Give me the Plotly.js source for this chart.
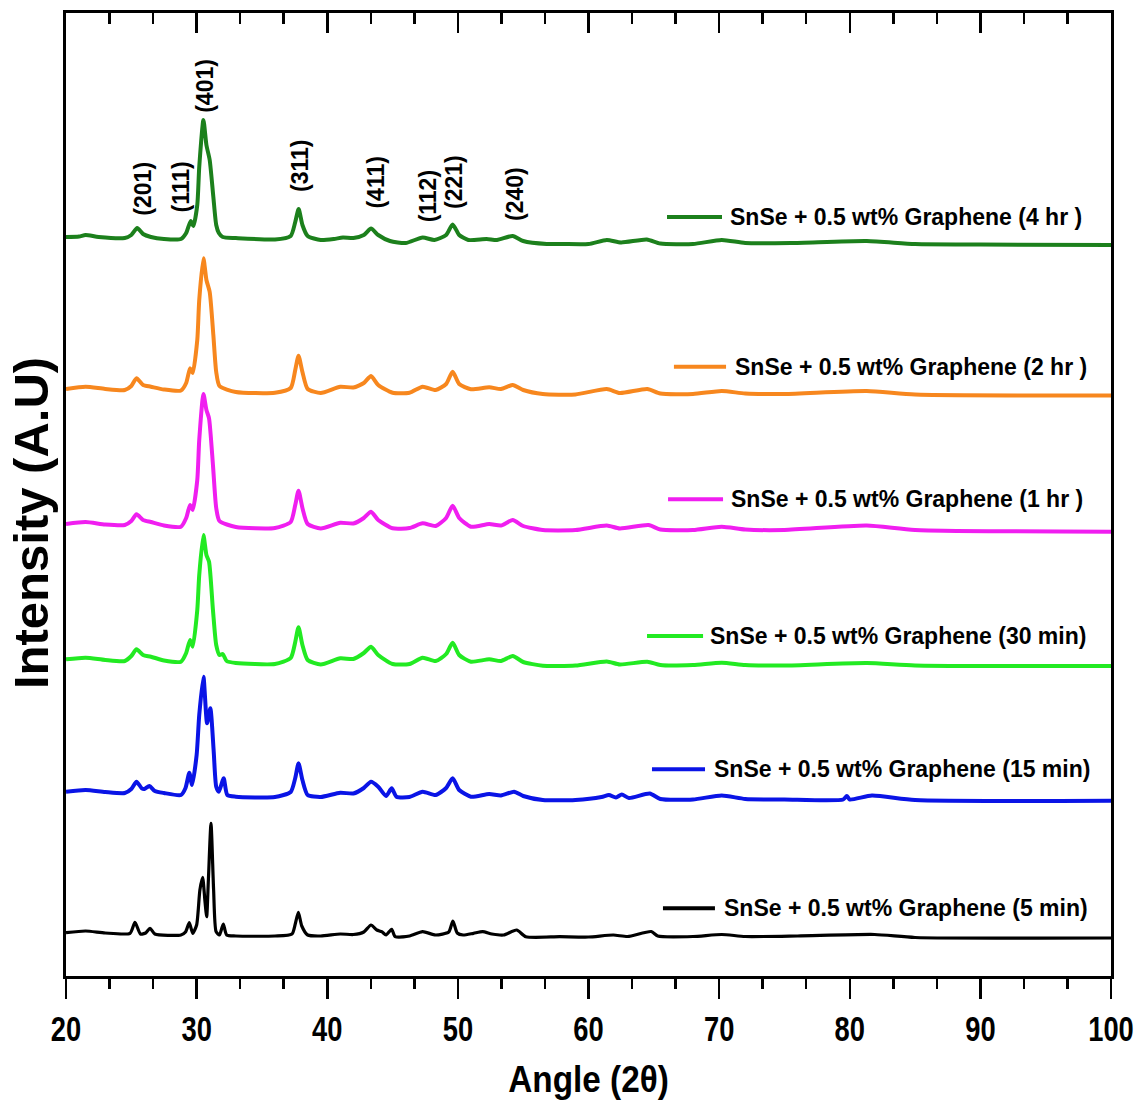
<!DOCTYPE html>
<html><head><meta charset="utf-8">
<script src="https://cdn.plot.ly/plotly-3.0.1.min.js"></script>
<style>body{margin:0;background:#fff}#chart{width:1141px;height:1106px}</style>
</head><body><div id="chart"></div>
<script>
// ---- Data (2θ in degrees, intensity in arbitrary units) ----
const seriesNames = [
  "SnSe + 0.5 wt% Graphene (5 min)",
  "SnSe + 0.5 wt% Graphene (15 min)",
  "SnSe + 0.5 wt% Graphene (30 min)",
  "SnSe + 0.5 wt% Graphene (1 hr )",
  "SnSe + 0.5 wt% Graphene (2 hr )",
  "SnSe + 0.5 wt% Graphene (4 hr )"
];
// vertical stacking offsets (a.u.)
const offsets = [36, 174, 309, 444, 580, 730];

const x_5min = [20,21.5,23,24.9,25.28,25.7,26.1,26.43,26.8,28.8,29.15,29.44,29.7,30.0,30.25,30.46,30.63,30.77,30.9,31.1,31.3,31.49,31.75,32.04,32.3,33,36,37.3,37.55,37.79,38.05,38.5,39.5,41,42,42.8,43.35,43.8,44.17,44.5,44.93,45.2,46.3,47.3,48.3,49.3,49.62,49.95,50.4,51.2,51.9,52.6,53.5,54.5,55.2,57.8,60,61.9,63,64.8,65.3,68,70.2,72,76,81.9,85,100];
const y_5min = [7.3,9,7,6.7,17.7,6,7,11.7,6,5,8,17.3,6.7,15,50,62.7,40,23.3,60,116.7,50,8.3,5,16,5,4,4,6,16,27.7,14,5,4,6,5.5,8,15,10,8.3,5,10.7,3.3,4,8.3,5,8,19,7,5,6.7,8.3,6,5,10,3.3,3.3,3,5,3.5,8.5,4,3.5,5.5,3.5,4,5.5,2.5,2];

const x_15min = [20,21.5,23,24.5,25.0,25.4,25.8,26.0,26.38,26.8,27.5,28.8,29.15,29.44,29.65,30.0,30.2,30.52,30.8,31.05,31.3,31.5,31.7,32.07,32.35,33,36,37.2,37.55,37.8,38.1,38.5,39.5,41,42,42.8,43.35,43.9,44.5,44.93,45.3,46.3,47.3,48.3,49.1,49.6,50.1,51,52.4,53.3,54.3,55,56.5,59,61.0,61.56,62.1,62.55,63.1,64.69,65.5,68,70.2,72,75,79.5,79.77,80.0,81.7,85,100];
const y_15min = [10.3,12,10,9,13,20.3,13.7,13,16,11,9,7,14,29.3,17,47,87,125.3,78.7,93.7,52,15.3,10.3,23.7,7,5.3,5,10,24,38.7,22,7,5,9.3,8.5,14,20.3,15.3,6,13.7,5.3,5,10.3,7,14,23.7,12,5.3,8,6.5,10.3,6,2,2,5,7,4.5,7.5,4,8.5,3,2.5,6.5,3,2.5,2.5,6,2.5,6.5,2,1.3];

const x_30min = [20,21.5,23,24.5,25.0,25.4,25.9,26.5,27.5,28.8,29.2,29.5,29.7,30.05,30.2,30.52,30.75,30.95,31.25,31.5,31.75,32.0,32.3,33,36,37.2,37.55,37.8,38.1,38.5,39.5,41,42,42.8,43.35,43.9,45,46.3,47.3,48.3,49.1,49.6,50.1,51,52.4,53.3,54.2,55,56.5,59,61.4,62.4,64.5,65.5,68,70.2,72,75,81.3,85,100];
const y_30min = [7.7,9.3,7,6,11,17.7,12,10.3,6.5,5.3,14,27,20.3,57,92,132,112,105.3,57,22,12,13,6,4,3,9,25,39.7,22,7,2.5,8.7,8,14,20.3,12,3,3,9.3,6,13,24.3,12,5.3,7.7,6,11,5,1.3,1.5,5.5,2.5,5.3,2,2,4.3,2,1.5,4,1.5,1];

const x_1hr = [20,21.5,23,24.5,25.0,25.4,25.9,26.5,27.5,28.8,29.2,29.5,29.7,30.05,30.2,30.52,30.75,30.95,31.25,31.5,31.75,33,36,37.2,37.55,37.8,38.1,38.5,39.5,41,42,42.8,43.35,43.9,45,46.3,47.3,48.3,49.1,49.6,50.1,51,52.4,53.3,54.2,55,56.5,59,61.4,62.4,64.6,65.5,68,70.2,72,75,81.3,85,100];
const y_1hr = [8,10,7.5,7,11,17.7,12,10,6.5,5.3,14,27,22,52,92,138,122,113.7,67,24,11,5,4,10,27,41.3,24,8,3.5,9.3,8.5,14,20.3,12,3.7,4,8.7,6,14,26.3,14,5.3,8,6.5,12,6,2,2,6.5,3.5,7,2.5,2,5.3,2.5,2,6.5,2,0.3];

const x_2hr = [20,21.5,23,24.5,25.0,25.4,25.9,26.5,27.5,28.8,29.2,29.5,29.7,30.05,30.2,30.52,30.75,31.0,31.28,31.5,31.75,33,36,37.2,37.55,37.8,38.1,38.5,39.5,41,42,42.8,43.35,43.9,45,46.3,47.3,48.3,49.1,49.6,50.1,51,52.4,53.3,54.2,55,56.5,59,61.4,62.4,64.5,65.5,68,70.2,72,75,81.3,85,100];
const y_2hr = [7,9.3,7,6,10,17.7,11,9.3,6.5,5.5,13,27.7,23,56,96,137.7,116,104,61,24,10,4,3.3,8,26,40.3,24,7,3,9.3,8.5,13,20,11,3.3,3.3,9.3,6,12,24.3,12,6.7,8.7,7,11,6,2,1.5,7,3,7,2.5,2,5,2.5,2,5,1.5,0.5];

const x_4hr = [20,21,21.5,22.5,24.5,25.0,25.45,25.9,26.5,27.5,28.8,29.2,29.55,29.75,30.05,30.2,30.52,30.75,31.0,31.28,31.5,31.7,32.0,33,36,37.2,37.55,37.81,38.1,38.5,39.5,40.5,41.2,42.0,42.8,43.35,43.9,44.8,46,47.3,48.2,49.1,49.6,50.1,50.8,52.2,53,54.2,55,56.8,58,60,61.4,62.5,64.46,65.5,68,70.2,72,75.5,81.3,85,90,100];
const y_4hr = [9,9.5,11,9,8,11,18,12,9,7,7,13,25,20,41,79,126,101,86,49,21,13,9,8,6.5,10,24,37,21,10,6,7,8.5,8,11,17.5,11,5,3,8.5,6,11,21.5,11,6,7,6,10,5,2,2,2,6,3.5,6.5,2.5,2,6,3,3,5,2,1.5,1];

const seriesX = [x_5min, x_15min, x_30min, x_1hr, x_2hr, x_4hr];
const seriesY = [y_5min, y_15min, y_30min, y_1hr, y_2hr, y_4hr];

// Miller-index labels
const hklLabels = ["(201)","(111)","(401)","(311)","(411)","(112)","(221)","(240)"];

// ---- Styling / placement ----
const colors = ["#000000", "#0a14e6", "#22ea22", "#f01ef0", "#f7871e", "#1c801c"];
const lineWidths = [3.2, 4, 4, 4, 4, 4];
const hklPosX = [25.92, 28.78, 30.64, 37.91, 43.66, 47.74, 49.65, 54.37];
const hklPosY = [787.7, 789.3, 890.2, 810, 793.5, 780, 794.3, 782];
// legend: sample line start/end (2θ), vertical position, text start
const legLine0 = [65.70, 64.86, 64.48, 66.09, 66.54, 66.01];
const legLine1 = [69.68, 68.92, 68.77, 70.30, 70.53, 70.22];
const legY     = [67.7, 206.7, 340, 476.7, 609.3, 759];
const legText0 = [70.22, 69.45, 69.15, 70.76, 71.06, 70.68];

const sans = "'Liberation Sans',Arial,sans-serif";

const traces = seriesNames.map((name, i) => ({
  type: 'scatter', mode: 'lines', name: name,
  x: seriesX[i],
  y: seriesY[i].map(v => v + offsets[i]),
  line: {color: colors[i], width: lineWidths[i], shape: 'spline', smoothing: 0.6},
  showlegend: false
}));
// invisible trace carrying the top (inward-tick) axis
traces.push({type:'scatter', mode:'lines', x:[20,100], y:[null,null], xaxis:'x2', yaxis:'y', showlegend:false, hoverinfo:'skip'});

const annotations = [];
hklLabels.forEach((t, i) => annotations.push({
  text: t, x: hklPosX[i], y: hklPosY[i], xref:'x', yref:'y', showarrow:false,
  textangle: -90, font: {family: sans, size: 23, weight: 'bold', color: '#000'}
}));
seriesNames.forEach((t, i) => annotations.push({
  text: t, x: legText0[i], y: legY[i], xref:'x', yref:'y', showarrow:false,
  xanchor:'left', yanchor:'middle',
  font: {family: sans, size: 23, weight: 'bold', color: '#000'}
}));
annotations.push({
  text: 'Intensity (A.U)', xref:'paper', yref:'paper',
  x: (31 - 66) / 1045, y: (976 - 523) / 963, showarrow:false, textangle:-90,
  xanchor:'center', yanchor:'middle',
  font: {family: sans, size: 49, weight: 'bold', color: '#000'}
});

const shapes = seriesNames.map((t, i) => ({
  type:'line', xref:'x', yref:'y', x0: legLine0[i], x1: legLine1[i], y0: legY[i], y1: legY[i],
  line: {color: colors[i], width: 4}
}));

const layout = {
  width: 1141, height: 1106,
  margin: {l: 66, r: 30, t: 13, b: 130},
  paper_bgcolor: '#fff', plot_bgcolor: '#fff',
  showlegend: false,
  xaxis: {
    range: [20, 100], tick0: 20, dtick: 10,
    ticks: 'outside', ticklen: 20, tickwidth: 2.5, tickcolor: '#000',
    showline: true, linewidth: 3, linecolor: '#000', mirror: true,
    showgrid: false, zeroline: false,
    tickfont: {family: sans, size: 35, weight: 'bold', color: '#000'},
    minor: {ticks: 'outside', ticklen: 10, tickwidth: 2.5, tickcolor: '#000', tick0: 20, dtick: 10/3, showgrid: false},
    title: {text: 'Angle (2θ)', font: {family: sans, size: 37, weight: 'bold', color: '#000'}, standoff: 20}
  },
  xaxis2: {
    overlaying: 'x', side: 'top', anchor: 'y', range: [20, 100], tick0: 20, dtick: 10,
    ticks: 'inside', ticklen: 20, tickwidth: 2.5, tickcolor: '#000',
    showticklabels: false, showline: false, showgrid: false, zeroline: false,
    minor: {ticks: 'inside', ticklen: 11, tickwidth: 2.5, tickcolor: '#000', tick0: 20, dtick: 10/3, showgrid: false}
  },
  yaxis: {
    range: [0, 963], showticklabels: false, ticks: '',
    showline: true, linewidth: 3, linecolor: '#000', mirror: true,
    showgrid: false, zeroline: false
  },
  annotations: annotations,
  shapes: shapes
};

// condense glyphs horizontally (the original uses a narrow bold face)
function condense(selector, ratio) {
  document.querySelectorAll(selector).forEach(el => {
    const L = el.getComputedTextLength();
    if (L > 0) {
      el.setAttribute('textLength', (L * ratio).toFixed(1));
      el.setAttribute('lengthAdjust', 'spacingAndGlyphs');
    }
  });
}

Plotly.newPlot('chart', traces, layout, {displayModeBar: false, staticPlot: true}).then(() => {
  condense('.xtick text', 0.78);
  condense('.g-xtitle text', 0.9);
});
</script></body></html>
